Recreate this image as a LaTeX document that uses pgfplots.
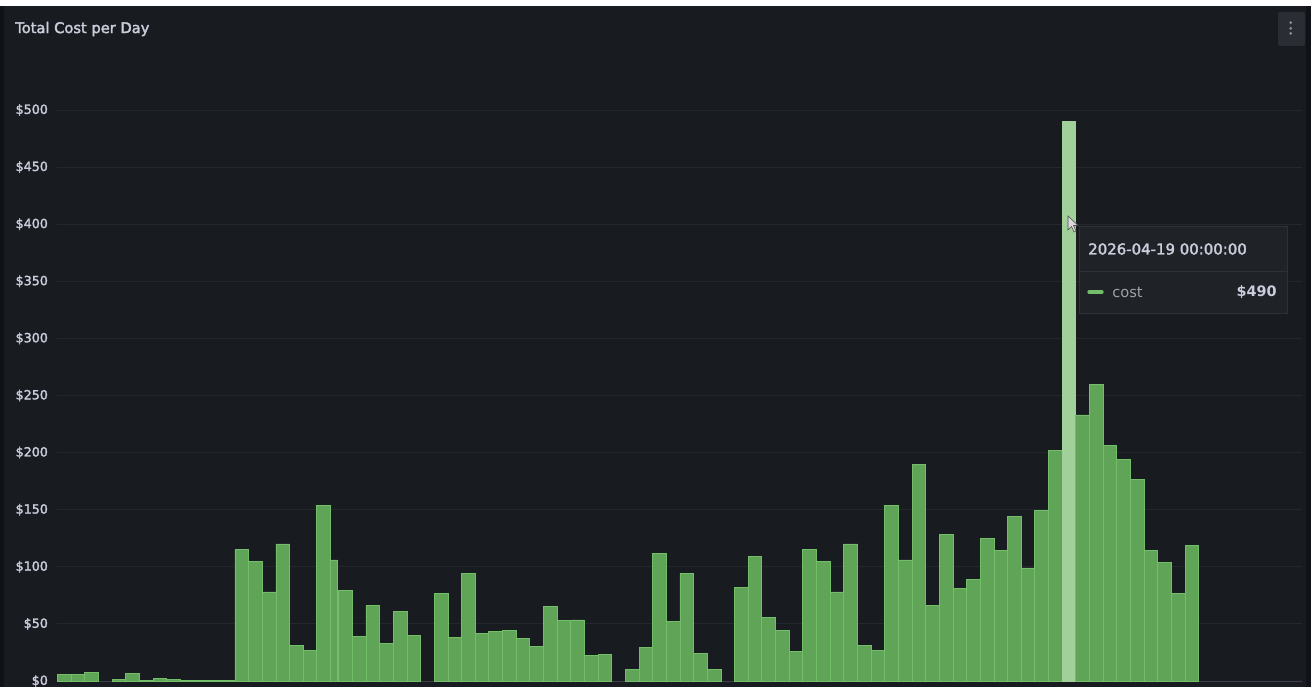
\documentclass[border=0pt]{standalone}
\usepackage{fontspec}
\setmainfont{DejaVu Sans}
\newfontfamily\medfont{DejaVu Sans}[FakeBold=2.2]
\usepackage{pgfplots}
\pgfplotsset{compat=1.18}
\definecolor{outer}{HTML}{111217}
\definecolor{panel}{HTML}{181B1F}
\definecolor{gridc}{HTML}{24272C}
\definecolor{barfill}{HTML}{60A457}
\definecolor{barline}{HTML}{73BF69}
\definecolor{barhl}{HTML}{A2D09A}
\definecolor{txt}{HTML}{CCCCDC}
\definecolor{tipbg}{HTML}{1F2227}
\definecolor{tipline}{HTML}{2E3137}
\definecolor{muted}{HTML}{9FA1A7}
\definecolor{basec}{HTML}{3C3F45}
\definecolor{menubg}{HTML}{2A2D33}
\definecolor{menudot}{HTML}{8E9096}
\pgfplotsset{cost/.style={ybar interval, fill=barfill, draw=barline, line width=0.6pt}}
\begin{document}
\begin{tikzpicture}[x=0.75pt,y=0.75pt]
\useasboundingbox (0,0) rectangle (1311,687);
\fill[outer] (0,0) rectangle (1311,687);
\fill[white] (0,681) rectangle (1311,687);
\fill[panel] (4,0) rectangle (1306,681);
\node[anchor=west, text=txt, font=\medfont\fontsize{11}{13}\selectfont, inner sep=0pt] at (15,658) {Total Cost per Day};
\fill[menubg, rounded corners=1.5pt] (1278,641) rectangle (1305,675);
\fill[menudot] (1290.7,664.3) circle (1.5);
\fill[menudot] (1290.7,658.7) circle (1.5);
\fill[menudot] (1290.7,653.7) circle (1.5);
\begin{axis}[at={(43.125pt,4.5pt)}, anchor=south west, scale only axis,
  width=933.375pt, height=428.25pt,
  xmin=0, xmax=91.17, ymin=0, ymax=500, clip=false,
  axis line style={draw=none}, major tick length=0pt,
  xtick=\empty, ytick={0,50,...,500},
  yticklabels={\$0,\$50,\$100,\$150,\$200,\$250,\$300,\$350,\$400,\$450,\$500},
  ymajorgrids, major grid style={gridc, line width=0.75pt},
  yticklabel style={anchor=east, inner sep=0pt, xshift=-7pt, text=txt, font=\medfont\fontsize{9.5}{11}\selectfont}]
\draw[basec, line width=0.75pt] (axis cs:0,0) -- (axis cs:91.17,0);
% group A
\addplot[cost] coordinates {(0,5.5) (1,5.5) (2,7.2) (3,0)};
% group B
\addplot[cost] coordinates {(4,1.5) (5,7) (6,0.8) (7,2) (8,1.2) (9,0.8) (10,0.5) (11,0.4) (12,0.6) (13,0)};
% group C
\addplot[cost] coordinates {(13,115) (14,104.5) (15,78) (16,120) (17,31) (18,27) (19,154) (20,106) (20.5,25) (20.6,79) (21.6,39) (22.6,66) (23.6,32.5) (24.6,61) (25.6,40) (26.6,0)};
% group D
\addplot[cost] coordinates {(27.6,77) (28.6,38) (29.6,94) (30.6,42) (31.6,43) (32.6,44) (33.6,37) (34.6,30) (35.6,65) (36.6,53) (37.6,53.5) (38.6,22) (39.6,23) (40.6,0)};
% group E
\addplot[cost] coordinates {(41.6,10) (42.6,29) (43.6,112) (44.6,52) (45.6,94) (46.6,24) (47.6,10) (48.6,0)};
% group F
\addplot[cost] coordinates {(49.6,82) (50.6,109) (51.6,56) (52.6,44) (53.6,26) (54.6,115) (55.6,104.5) (56.6,78) (57.6,120) (58.6,31) (59.6,27) (60.6,154) (61.6,106) (62.6,190) (63.6,66) (64.6,128) (65.6,81) (66.6,89) (67.6,125) (68.6,114) (69.6,144) (70.6,99) (71.6,149) (72.6,202) (73.6,0)};
% highlighted day
\addplot[ybar interval, fill=barhl, draw=barhl, line width=0.6pt] coordinates {(73.6,490) (74.6,0)};
% group G
\addplot[cost] coordinates {(74.6,233) (75.6,260) (76.6,206) (77.6,194) (78.6,176.5) (79.6,114) (80.6,104) (81.6,77) (82.6,118.5) (83.6,0)};
\end{axis}
% cursor
\filldraw[fill=white!85!black, draw=black!70, line width=0.4pt] (1068,471) -- (1068,457) -- (1071.5,460.5) -- (1074,455) -- (1076,456) -- (1073.5,461.5) -- (1078,461.5) -- cycle;
% tooltip
\filldraw[fill=tipbg, draw=tipline, line width=0.75pt] (1079,374) rectangle (1287,460);
\draw[tipline, line width=0.75pt] (1079,416) -- (1287,416);
\node[anchor=west, inner sep=0pt, text=txt, font=\medfont\fontsize{11.2}{13}\selectfont] at (1088,438) {2026-04-19 00:00:00};
\draw[barline, line width=2.5pt, line cap=round] (1089,395) -- (1102,395);
\node[anchor=west, inner sep=0pt, text=muted, font=\fontsize{11}{13}\selectfont] at (1112,395) {cost};
\node[anchor=east, inner sep=0pt, text=txt, font=\bfseries\fontsize{10.8}{13}\selectfont] at (1277,395) {\$490};
\end{tikzpicture}
\end{document}
